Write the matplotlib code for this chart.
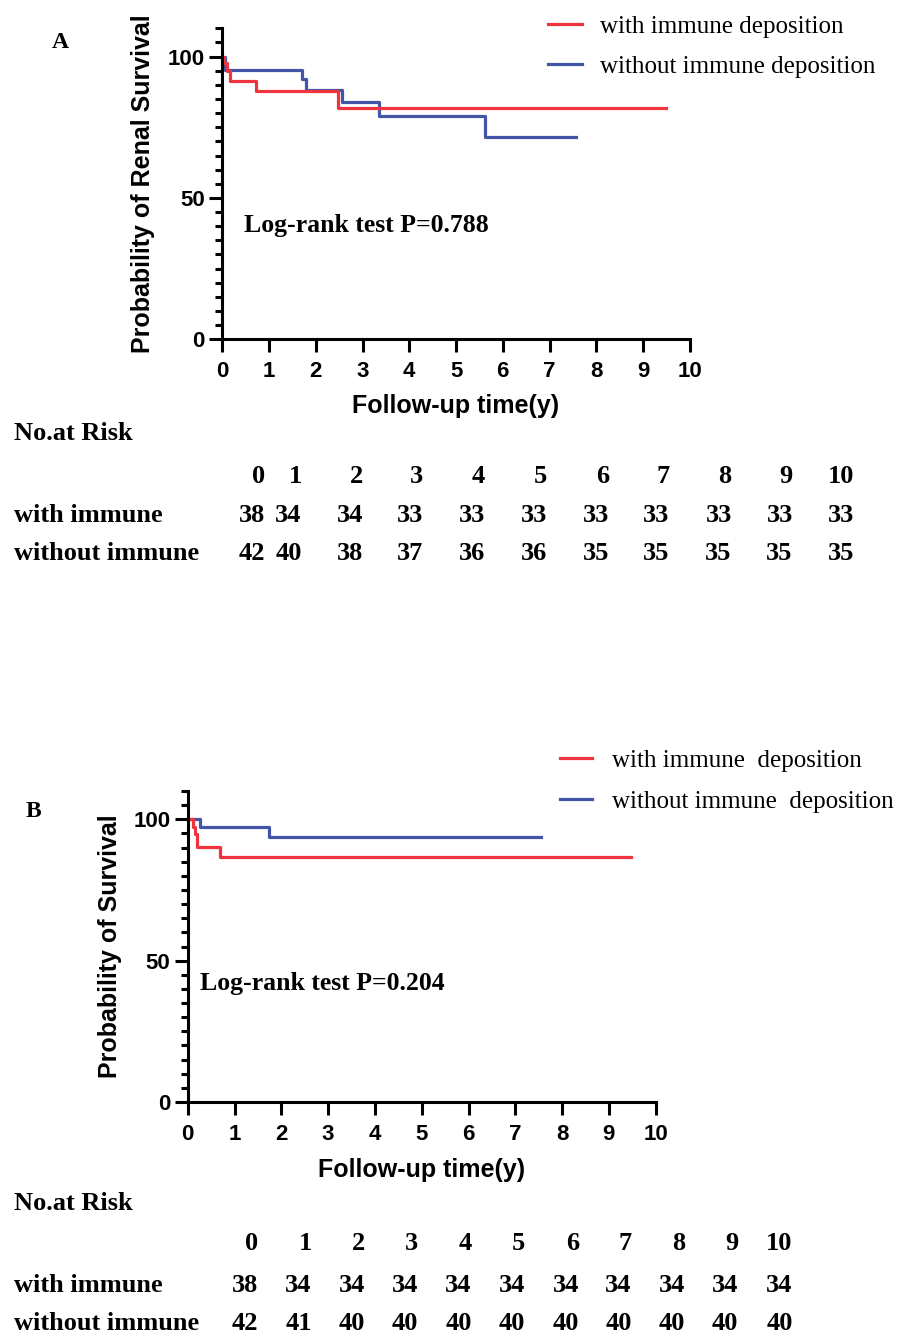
import numpy as np
import matplotlib
matplotlib.use('Agg')
import matplotlib.pyplot as plt

# Kaplan-Meier steps (time in years, survival in %)
# Panel A - renal survival
a_with_t = [0, 0.04, 0.10, 0.17, 0.72, 2.47, 9.5]
a_with_s = [100, 97.9, 94.9, 91.2, 87.7, 81.8, 81.8]
a_without_t = [0, 0.05, 1.70, 1.79, 2.57, 3.36, 5.61, 7.57]
a_without_s = [100, 95.4, 92.1, 88.3, 83.9, 79.1, 71.4, 71.4]
a_pvalue = 'Log-rank test P=0.788'

# Panel B - overall survival
b_with_t = [0, 0.12, 0.15, 0.19, 0.70, 9.47]
b_with_s = [100, 97.4, 94.7, 90.3, 86.6, 86.6]
b_without_t = [0, 0.26, 1.74, 7.55]
b_without_s = [100, 97.2, 93.6, 93.6]
b_pvalue = 'Log-rank test P=0.204'

# numbers at risk
risk_times = ['0', '1', '2', '3', '4', '5', '6', '7', '8', '9', '10']
a_risk_with = [38, 34, 34, 33, 33, 33, 33, 33, 33, 33, 33]
a_risk_without = [42, 40, 38, 37, 36, 36, 35, 35, 35, 35, 35]
b_risk_with = [38, 34, 34, 34, 34, 34, 34, 34, 34, 34, 34]
b_risk_without = [42, 41, 40, 40, 40, 40, 40, 40, 40, 40, 40]

RED = '#EF3440'
BLUE = '#4256A8'
SERIF = 'Liberation Serif'
SANS = 'Liberation Sans'

W, H = 901, 1336
fig = plt.figure(figsize=(W / 100, H / 100), dpi=100)


def fx(px):
    return px / W


def fy(py):
    return 1 - py / H


def km_panel(rect, with_t, with_s, without_t, without_s, ylabel, ptext, ppos,
             xlab_y, ylab_x):
    ax = fig.add_axes(rect)
    l_without, = ax.step(without_t, without_s, where='post', color=BLUE, lw=2.3)
    l_with, = ax.step(with_t, with_s, where='post', color=RED, lw=2.3)
    ax.set_xlim(0, 10)
    ax.set_ylim(0, 110)
    ax.spines['top'].set_visible(False)
    ax.spines['right'].set_visible(False)
    for s in ('left', 'bottom'):
        ax.spines[s].set_linewidth(2.2)
    ax.set_xticks(np.arange(0, 11))
    ax.set_yticks([0, 50, 100])
    ax.set_yticks(np.arange(0, 111, 5), minor=True)
    ax.tick_params(axis='both', which='major', length=9.5, width=2.2,
                   labelsize=16, pad=3)
    ax.tick_params(axis='x', which='major', pad=6)
    ax.tick_params(axis='y', which='minor', length=5, width=2.2)
    for lab in ax.get_xticklabels() + ax.get_yticklabels():
        lab.set_family(SANS)
        lab.set_fontweight('bold')
    ax.set_xlabel('Follow-up time(y)', fontsize=18, fontweight='bold', family=SANS)
    ax.set_ylabel(ylabel, fontsize=18, fontweight='bold', family=SANS)
    ax.xaxis.set_label_coords(0.5, xlab_y)
    ax.xaxis.label.set_va('center')
    ax.yaxis.set_label_coords(ylab_x, 0.5)
    ax.yaxis.label.set_va('center')
    ax.text(ppos[0], ppos[1], ptext, fontsize=18.5, fontweight='bold',
            family=SERIF, va='center', ha='left')
    return ax, l_with, l_without


def risk_table(y_title, y_head, y_rows, col_right, rows):
    fig.text(fx(14), fy(y_title), 'No.at Risk', fontsize=19, fontweight='bold',
             family=SERIF, va='center', ha='left')
    for t, xr in zip(risk_times, col_right):
        fig.text(fx(xr), fy(y_head), t, fontsize=19, fontweight='bold',
                 family=SERIF, va='center', ha='right')
    for (name, vals), yr in zip(rows, y_rows):
        fig.text(fx(14), fy(yr), name, fontsize=19, fontweight='bold',
                 family=SERIF, va='center', ha='left')
        for v, xr in zip(vals, col_right):
            fig.text(fx(xr), fy(yr), str(v), fontsize=19, fontweight='bold',
                     family=SERIF, va='center', ha='right')


# Panel A
axA, la_with, la_without = km_panel(
    [fx(222.3), fy(339.3), 467.5 / W, 311 / H],
    a_with_t, a_with_s, a_without_t, a_without_s,
    'Probability of Renal Survival', a_pvalue, (0.46, 40.1), -0.216, -0.170)
fig.text(fx(60), fy(42), 'A', fontsize=17, fontweight='bold', family=SERIF,
         ha='center', va='center')
fig.legend([la_with, la_without], ['with immune deposition', 'without immune deposition'],
           loc='upper left', bbox_to_anchor=(fx(548), fy(15)), frameon=False,
           prop={'family': SERIF, 'size': 18}, borderpad=0, borderaxespad=0,
           handlelength=1.36, handletextpad=0.72, labelspacing=0.72)
risk_table(434, 476.7, [515, 553.3],
           [265, 301.7, 363.3, 423.3, 485, 546.7, 609.3, 669.3, 731.7, 792.7, 854],
           [('with immune', a_risk_with), ('without immune', a_risk_without)])

# Panel B
axB, lb_with, lb_without = km_panel(
    [fx(187.7), fy(1102), 468 / W, 311 / H],
    b_with_t, b_with_s, b_without_t, b_without_s,
    'Probability of Survival', b_pvalue, (0.26, 42.0), -0.2186, -0.166)
fig.text(fx(33), fy(811.5), 'B', fontsize=17, fontweight='bold', family=SERIF,
         ha='center', va='center')
fig.legend([lb_with, lb_without], ['with immune  deposition', 'without immune  deposition'],
           loc='upper left', bbox_to_anchor=(fx(560), fy(749)), frameon=False,
           prop={'family': SERIF, 'size': 18}, borderpad=0, borderaxespad=0,
           handlelength=1.28, handletextpad=0.8, labelspacing=0.76)
risk_table(1204, 1243.3, [1285, 1323.3],
           [258.3, 311.7, 365, 418.3, 471.7, 525, 579.3, 631.7, 685, 738.3, 792.7],
           [('with immune', b_risk_with), ('without immune', b_risk_without)])

fig.savefig('out.png', dpi=100)
